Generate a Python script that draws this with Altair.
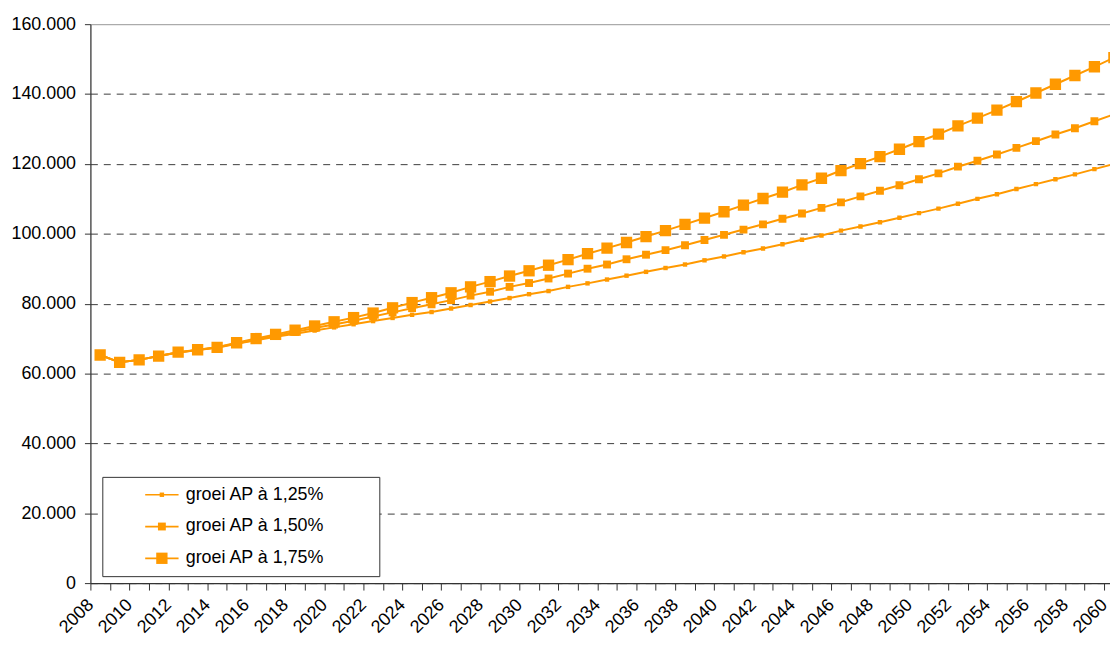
import altair as alt
import pandas as pd

years = list(range(2008, 2061))

series_names = ["groei AP à 1,25%", "groei AP à 1,50%", "groei AP à 1,75%"]

growth_125 = [65300, 63200, 63900, 65000, 66000, 66700, 67400, 68500, 69500, 70500,
              71400, 72300, 73200, 74100, 75000, 75900, 76800, 77600, 78600, 79600,
              80600, 81600, 82700, 83600, 84800, 85800, 86900, 88000, 89100, 90200,
              91200, 92400, 93500, 94700, 95800, 97000, 98300, 99500, 100900, 102100,
              103300, 104600, 105900, 107200, 108600, 110000, 111300, 112800, 114200, 115600,
              117000, 118500, 120000]

growth_150 = [65300, 63200, 63900, 65000, 66000, 66700, 67500, 68600, 69700, 70800,
              71900, 73000, 74000, 75100, 76300, 77500, 78700, 79800, 81000, 82300,
              83400, 84800, 85900, 87200, 88600, 90000, 91200, 92700, 94000, 95300,
              96700, 98200, 99700, 101200, 102700, 104300, 105800, 107400, 109000, 110700,
              112300, 113900, 115600, 117300, 119200, 120900, 122700, 124600, 126500, 128400,
              130200, 132200, 134200]

growth_175 = [65300, 63200, 63900, 65000, 66100, 66800, 67500, 68800, 70000, 71200,
              72400, 73600, 74800, 76000, 77300, 78800, 80300, 81700, 83100, 84800,
              86300, 87900, 89400, 91000, 92600, 94300, 95900, 97500, 99200, 100900,
              102700, 104500, 106300, 108200, 110100, 111900, 114000, 115900, 118100, 120100,
              122100, 124200, 126400, 128500, 130900, 133100, 135400, 137800, 140300, 142800,
              145300, 147800, 150400]

y_ticks = list(range(0, 160001, 20000))

ORANGE = "#FF9900"
FONT = "Arial"

rows = []
for name, vals in zip(series_names, [growth_125, growth_150, growth_175]):
    for yr, v in zip(years, vals):
        rows.append({"year": yr, "value": v, "series": name, "series_line": name})
df = pd.DataFrame(rows)

# Marker paths (1 unit = 6 px at size 144)
marker_paths = [
    "M-0.37,-0.37H0.37V0.37H-0.37Z",
    "M-0.66,-0.66H0.66V0.66H-0.66Z",
    "M-0.95,-0.95H0.95V0.95H-0.95Z",
]
legend_line_path = "M-2.8,0H2.8"

LEG_X, LEG_Y = 12, 456
LEG_PAD, LEG_ROWPAD = 9, 14

x_enc = alt.X(
    "xc:Q",
    scale=alt.Scale(domain=[2008, 2060.3], nice=False, zero=False),
    axis=alt.Axis(
        title=None,
        values=years,
        labelExpr="datum.value % 2 === 0 ? format(datum.value, 'd') : ''",
        labelAngle=315,
        labelAlign="right",
        labelBaseline="middle",
        labelPadding=12,
        labelFlush=False,
        labelOverlap=False,
        labelBound=False,
        labelFont=FONT,
        labelFontSize=18,
        labelColor="#000000",
        tickSize=7,
        tickColor="#333333",
        domainColor="#333333",
        domainWidth=1.2,
        grid=False,
    ),
)

y_enc = alt.Y(
    "value:Q",
    scale=alt.Scale(domain=[0, 160000], nice=False),
    axis=alt.Axis(
        title=None,
        values=y_ticks,
        labelExpr="replace(format(datum.value, ',d'), ',', '.')",
        labelFont=FONT,
        labelFontSize=18,
        labelColor="#000000",
        labelPadding=9,
        tickSize=6,
        tickColor="#333333",
        domainColor="#333333",
        domainWidth=1.2,
        grid=True,
        gridColor={"condition": {"test": "datum.value === 160000", "value": "#a0a0a0"},
                   "value": "#3c3c3c"},
        gridDash={"condition": {"test": "datum.value === 160000", "value": []},
                  "value": [7, 6]},
        gridWidth=1,
    ),
)

base = alt.Chart(df).transform_calculate(xc="datum.year + 0.5")

# lines; their legend draws the framed box and the line part of each entry
lines = base.mark_line(strokeWidth=2, clip=True).encode(
    x=x_enc,
    y=y_enc,
    color=alt.Color(
        "series_line:N",
        scale=alt.Scale(domain=series_names[::-1], range=[ORANGE, ORANGE, ORANGE]),
        legend=alt.Legend(
            title=None,
            orient="none",
            legendX=LEG_X,
            legendY=LEG_Y,
            padding=LEG_PAD,
            rowPadding=LEG_ROWPAD,
            symbolOffset=42,
            labelOffset=201,
            symbolSize=144,
            symbolType=legend_line_path,
            symbolStrokeColor=ORANGE,
            symbolStrokeWidth=1.75,
            labelExpr="''",
            labelFont=FONT,
            labelFontSize=18,
            labelOpacity=0,
            fillColor="#ffffff",
            strokeColor="#333333",
            zindex=0,
        ),
    ),
)

# markers; their legend draws the squares and the visible labels
points = base.mark_point(filled=True, size=144, opacity=1, color=ORANGE, clip=True).encode(
    x=x_enc,
    y=y_enc,
    shape=alt.Shape(
        "series:N",
        scale=alt.Scale(domain=series_names, range=marker_paths),
        legend=alt.Legend(
            title=None,
            orient="none",
            legendX=LEG_X,
            legendY=LEG_Y,
            padding=LEG_PAD,
            rowPadding=LEG_ROWPAD,
            symbolOffset=42,
            labelOffset=15,
            symbolSize=144,
            symbolOpacity=1,
            symbolFillColor=ORANGE,
            labelFont=FONT,
            labelFontSize=18,
            labelColor="#000000",
            zindex=1,
        ),
    ),
)

chart = (
    alt.layer(lines, points)
    .properties(
        width=1027,
        height=563,
        padding={"left": 83, "top": 14, "right": 0, "bottom": 51},
        autosize=alt.AutoSizeParams(type="none"),
    )
    .configure_view(stroke=None)
    .configure(background="#ffffff")
)

chart.save("out.html", embed_options={"renderer": "svg", "actions": False})
